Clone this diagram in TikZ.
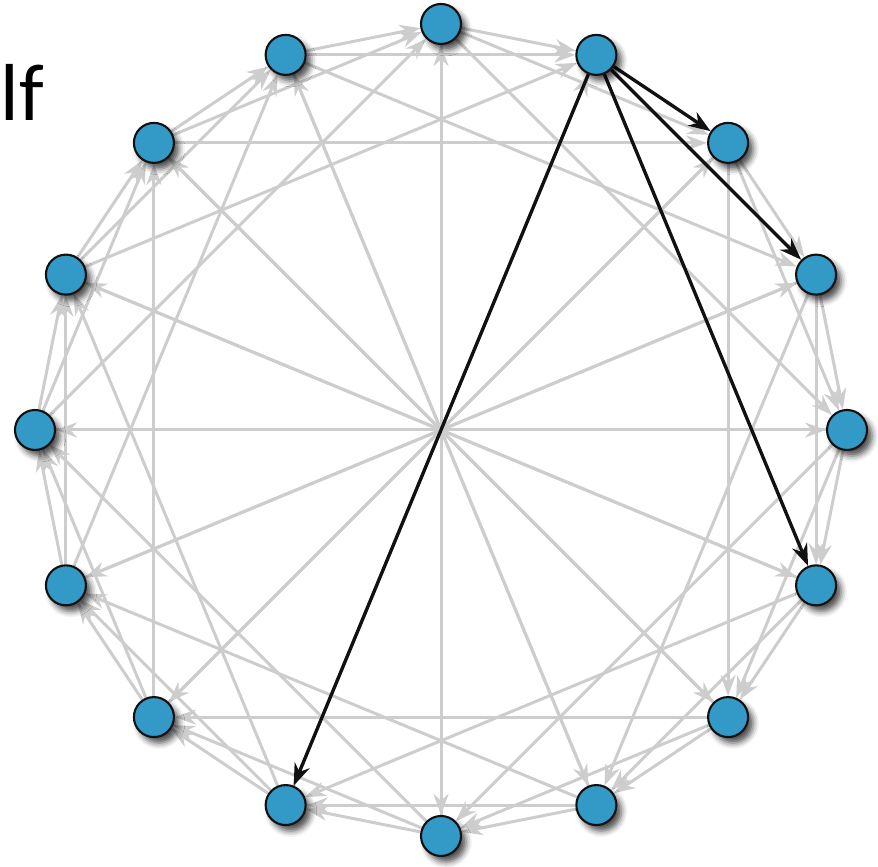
\documentclass[tikz,border=0pt]{standalone}
\usepackage{fontspec}
\setsansfont{Carlito}
\usetikzlibrary{arrows.meta,shadows.blur,backgrounds}
\definecolor{peerblue}{HTML}{3399C6}
\definecolor{peerink}{HTML}{111111}
\definecolor{edgegrey}{HTML}{CDCDCD}

\begin{document}
\begin{tikzpicture}[
  peer/.style={circle,draw=peerink,fill=peerblue,line width=0.6pt,
    minimum size=4mm,inner sep=0pt,
    blur shadow={shadow xshift=0.5mm,shadow yshift=-0.6mm,
      shadow blur radius=0.6mm,shadow opacity=70}},
  finger/.style={-{Stealth[length=2.1mm,width=1.5mm]},line width=0.85pt,edgegrey},
  lookup/.style={-{Stealth[length=2.2mm,width=1.6mm]},line width=0.95pt,peerink}
]
  \useasboundingbox (0,0) rectangle (8.78,8.67);
  \clip (0,0) rectangle (8.78,8.67);

  % ring of peers, clockwise from the top
  \begin{scope}[shift={(4.41,4.37)}]
    \foreach \k in {0,...,15}
      \node[peer] (n\k) at ({90-22.5*\k}:4.06) {};
  \end{scope}

  % finger edges: +1, +2, +4, +8
  \begin{scope}[on background layer]
    \foreach \k in {0,2,3,...,15}
      \foreach \d in {1,2,4,8} {
        \pgfmathtruncatemacro{\t}{mod(\k+\d,16)}
        \draw[finger] (n\k) -- (n\t);
      }
    \foreach \t in {2,3,5,9}
      \draw[lookup] (n1) -- (n\t);
  \end{scope}

  \node[font=\sffamily\fontsize{23}{23}\selectfont,anchor=base west,
    inner sep=0pt] (tag) at (0,7.46) {lf};
\end{tikzpicture}
\end{document}
